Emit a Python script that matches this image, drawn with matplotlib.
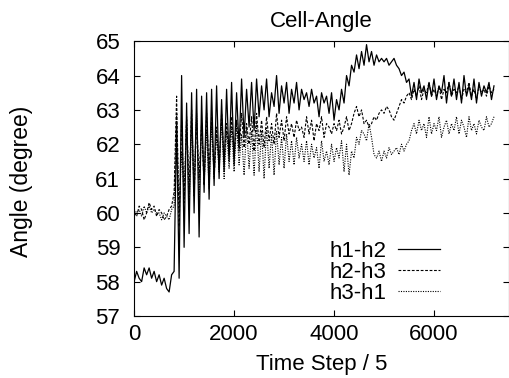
import numpy as np
import matplotlib
matplotlib.use('Agg')
import matplotlib.pyplot as plt

plt.rcParams['font.family'] = ['Liberation Sans', 'DejaVu Sans']

# time axis (Time Step / 5), one sample every 50
t = np.arange(0, 7201, 50)

h1_h2 = [
    58.0, 58.3, 58.1, 58.0, 58.4, 58.2, 58.4, 58.1, 58.3, 58.0,
    58.2, 57.9, 58.1, 57.8, 57.7, 58.2, 58.3, 62.6, 58.1, 64.0,
    59.0, 63.2, 59.4, 63.5, 60.0, 63.6, 59.3, 63.4, 60.6, 63.5,
    60.4, 63.6, 60.8, 63.7, 61.0, 63.3, 61.2, 63.6, 61.5, 63.8,
    61.4, 63.5, 61.9, 63.9, 62.2, 63.6, 62.5, 63.8, 62.4, 63.9,
    62.8, 63.7, 63.0, 63.9, 62.8, 63.5, 63.1, 64.0, 62.9, 63.7,
    63.2, 63.8, 62.9, 63.6, 63.2, 63.8, 63.0, 63.6, 63.3, 63.5,
    63.1, 63.6, 63.2, 63.4, 62.8, 63.5, 63.2, 63.4, 62.9, 63.5,
    62.7, 63.3, 63.0, 63.6, 63.2, 64.0, 63.7, 64.3, 64.1, 64.6,
    64.2, 64.7, 64.3, 64.9, 64.4, 64.7, 64.3, 64.6, 64.4, 64.5,
    64.4, 64.5, 64.3, 64.4, 64.5, 64.3, 64.2, 64.0, 64.1, 63.8,
    63.9, 63.4, 63.8, 63.3, 63.9, 63.5, 63.7, 63.3, 63.8, 63.4,
    63.9, 63.3, 63.7, 63.5, 64.0, 63.2, 63.8, 63.4, 63.9, 63.3,
    63.8, 63.2, 64.0, 63.4, 63.7, 63.3, 63.9, 63.2, 63.8, 63.4,
    63.7, 63.5, 63.8, 63.3, 63.7,
]

h2_h3 = [
    60.0, 59.9, 60.2, 60.1, 59.8, 60.0, 60.3, 60.1, 60.2, 59.9,
    60.1, 60.0, 59.8, 59.9, 60.1, 60.2, 60.6, 63.4, 59.6, 62.7,
    60.3, 62.8, 60.6, 63.0, 60.5, 62.7, 61.0, 62.6, 60.8, 62.9,
    61.2, 62.8, 61.0, 62.5, 61.3, 62.9, 61.5, 62.6, 61.7, 62.8,
    61.6, 62.7, 61.8, 62.9, 61.9, 62.6, 62.0, 62.8, 61.8, 62.9,
    62.0, 62.7, 61.9, 62.8, 62.1, 62.6, 62.0, 62.9, 62.2, 62.7,
    62.1, 62.8, 62.3, 62.6, 62.2, 62.7, 62.4, 62.5, 62.2, 62.8,
    62.3, 62.7, 62.1, 62.6, 62.4, 62.8, 62.2, 62.6, 62.5, 62.3,
    62.6, 62.4, 62.7, 62.3, 62.5, 62.8, 62.4, 62.6, 62.9, 63.1,
    62.8, 63.0, 62.6, 62.7, 62.5, 62.6, 62.8, 62.7, 62.9, 63.0,
    62.9, 63.1, 63.0, 62.8, 62.7, 62.9, 63.1, 63.3, 63.2, 63.4,
    63.5, 63.3, 63.6, 63.4, 63.7, 63.3, 63.6, 63.5, 63.8, 63.4,
    63.6, 63.4, 63.7, 63.3, 63.6, 63.5, 63.8, 63.4, 63.6, 63.5,
    63.7, 63.3, 63.6, 63.5, 63.8, 63.4, 63.6, 63.3, 63.7, 63.5,
    63.6, 63.4, 63.7, 63.5, 63.6,
]

h3_h1 = [
    60.1, 60.0, 60.1, 59.9, 60.2, 60.0, 60.2, 60.0, 60.1, 60.0,
    60.0, 59.8, 60.0, 59.9, 59.8, 60.1, 60.2, 62.9, 60.0, 61.8,
    60.5, 62.7, 60.2, 62.5, 60.8, 62.9, 60.4, 62.6, 60.9, 62.4,
    60.7, 62.6, 61.1, 62.3, 61.2, 62.7, 61.0, 62.4, 61.3, 62.5,
    61.2, 62.6, 61.4, 62.3, 61.1, 62.5, 61.3, 62.4, 61.1, 62.6,
    61.2, 62.4, 61.0, 62.5, 61.3, 62.3, 61.1, 62.4, 61.4, 62.2,
    61.3, 62.3, 61.5, 62.1, 61.4, 62.2, 61.6, 62.0, 61.5, 62.1,
    61.4, 62.0, 61.6, 61.9, 61.3, 62.1, 61.5, 61.8, 61.4, 62.0,
    61.5, 61.9, 61.6, 62.1, 61.2, 62.0, 61.1, 61.8, 61.6, 62.2,
    62.0, 62.4, 62.3, 62.1, 62.6, 62.2, 61.7, 61.6, 61.8, 61.5,
    61.8, 61.6, 61.9, 61.7, 61.8, 61.9, 61.7, 62.0, 61.8, 62.0,
    62.1, 62.4, 62.6, 62.3, 62.7, 62.4, 62.6, 62.2, 62.8, 62.3,
    62.6, 62.4, 62.8, 62.2, 62.5, 62.7, 62.3, 62.6, 62.4, 62.8,
    62.3, 62.7, 62.5, 62.2, 62.8, 62.4, 62.6, 62.3, 62.7, 62.5,
    62.4, 62.8, 62.5, 62.6, 62.8,
]

fig = plt.figure(figsize=(5.1, 3.78), dpi=100)
ax = fig.add_axes([0.263, 0.164, 0.735, 0.727])

ax.plot(t, h1_h2, color='black', lw=0.9, label='h1-h2')
ax.plot(t, h2_h3, color='black', lw=0.8, dashes=(2.5, 1.5), label='h2-h3')
ax.plot(t, h3_h1, color='black', lw=0.8, dashes=(1, 1.2), label='h3-h1')

ax.set_xlim(0, 7500)
ax.set_ylim(57, 65)
ax.set_xticks([0, 2000, 4000, 6000])
ax.set_yticks(range(57, 66))
ax.tick_params(direction='in', top=True, right=True, labelsize=16, length=4)
ax.tick_params(axis='y', pad=10)
ax.tick_params(axis='x', pad=6)
for s in ax.spines.values():
    s.set_linewidth(0.8)

ax.set_title('Cell-Angle', fontsize=16, pad=10)
ax.set_xlabel('Time Step / 5', fontsize=16, labelpad=6)
ax.set_ylabel('Angle (degree)', fontsize=16.5)
ax.yaxis.set_label_coords(-0.269, 0.49)

ax.legend(loc='lower right', bbox_to_anchor=(0.845, 0.005), frameon=False,
          markerfirst=False, fontsize=16, handlelength=1.9, handletextpad=0.5,
          labelspacing=0.0, borderpad=0)

fig.savefig('out.png', dpi=100)
